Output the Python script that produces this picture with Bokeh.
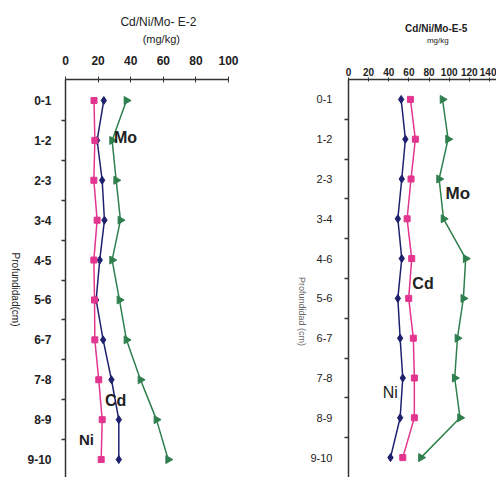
import numpy as np
from bokeh.plotting import figure
from bokeh.layouts import row, column
from bokeh.models import Range1d, FixedTicker, Label
from bokeh.embed import file_html
from bokeh.resources import INLINE

depths = ["0-1", "1-2", "2-3", "3-4", "4-5", "5-6", "6-7", "7-8", "8-9", "9-10"]
depths_e5 = ["0-1", "1-2", "2-3", "3-4", "4-6", "5-6", "6-7", "7-8", "8-9", "9-10"]

# E-2 (mg/kg)
e2_square = [17.5, 18, 17.4, 19.4, 17.4, 17.8, 18, 20.4, 22.5, 21.9]
e2_diamond = [23.5, 19.4, 22.5, 23.9, 21, 18.8, 23.1, 28.2, 32.7, 32.7]
e2_triangle = [37.4, 28.6, 31.1, 33.7, 28.6, 33.1, 37.4, 46, 55.8, 63]

# E-5 (mg/kg)
e5_square = [61.5, 66.4, 62.1, 58.2, 62.8, 59.8, 64.4, 65.4, 65.4, 53.9]
e5_diamond = [52.3, 56.5, 52.9, 49, 52.9, 49, 51.3, 53.9, 51.3, 41.7]
e5_triangle = [93.4, 98.9, 90, 94.4, 116.4, 114.1, 108.2, 105.5, 110.8, 72]

e2_xticks = [0, 20, 40, 60, 80, 100]
e5_xticks = [0, 20, 40, 60, 80, 100, 120, 140]

PINK = "#E2358F"
NAVY = "#1E206E"
GREEN = "#2F7F4E"
TXT = "#222222"
FONT = "Liberation Sans"

idx = list(range(len(depths)))

TITLE_H = 46
TOTAL_H = 477


def make_fig(width, border_left, border_right, xmax, ybottom, ytop, xticks,
             labels, xfs, yfs, xstand, ystand, xtick_len, xbold, ybold):
    p = figure(width=width, height=TOTAL_H - TITLE_H, output_backend="svg",
               toolbar_location=None, x_axis_location="above",
               x_range=Range1d(0, xmax), y_range=Range1d(ybottom, ytop), title=None,
               min_border_left=border_left, min_border_right=border_right,
               min_border_top=79 - TITLE_H, min_border_bottom=0)
    p.outline_line_color = None
    p.xgrid.grid_line_color = None
    p.ygrid.grid_line_color = None
    p.background_fill_color = "white"
    p.border_fill_color = "white"

    xa = p.xaxis[0]
    xa.ticker = FixedTicker(ticks=xticks)
    xa.axis_line_color = "#333333"
    xa.axis_line_width = 1.5
    xa.major_tick_line_color = "#333333"
    xa.major_tick_in = xtick_len
    xa.major_tick_out = xtick_len
    xa.minor_tick_line_color = None
    xa.major_label_text_font = FONT
    xa.major_label_text_font_size = xfs
    xa.major_label_text_font_style = "bold" if xbold else "normal"
    xa.major_label_text_color = TXT
    xa.major_label_standoff = xstand

    ya = p.yaxis[0]
    ya.ticker = FixedTicker(ticks=idx, minor_ticks=[i + 0.5 for i in idx[:-1]])
    ya.major_label_overrides = {i: lab for i, lab in zip(idx, labels)}
    ya.axis_line_color = "#333333"
    ya.axis_line_width = 1.5
    ya.major_tick_in = 0
    ya.major_tick_out = 0
    ya.minor_tick_in = 0
    ya.minor_tick_out = 4
    ya.minor_tick_line_color = "#333333"
    ya.minor_tick_line_width = 1.5
    ya.major_label_text_font = FONT
    ya.major_label_text_font_size = yfs
    ya.major_label_text_font_style = "bold" if ybold else "normal"
    ya.major_label_text_color = TXT
    ya.major_label_standoff = ystand
    return p


def text_fig(width, height):
    f = figure(width=width, height=height, output_backend="svg", toolbar_location=None,
               x_range=Range1d(0, width), y_range=Range1d(height, 0),
               x_axis_type=None, y_axis_type=None, title=None,
               min_border_left=0, min_border_right=0, min_border_top=0,
               min_border_bottom=0)
    f.outline_line_color = None
    f.xgrid.grid_line_color = None
    f.ygrid.grid_line_color = None
    f.background_fill_color = "white"
    f.border_fill_color = "white"
    return f


def draw_series(p, sq, di, tr):
    p.line(tr, idx, line_color=GREEN, line_width=1.5)
    p.scatter(tr, idx, marker="triangle", angle=-np.pi / 2, size=8,
              fill_color=GREEN, line_color=GREEN)
    p.line(di, idx, line_color=NAVY, line_width=1.5)
    p.scatter(di, idx, marker="diamond", size=8, fill_color=NAVY, line_color=NAVY)
    p.line(sq, idx, line_color=PINK, line_width=1.5)
    p.scatter(sq, idx, marker="square", size=6, fill_color=PINK, line_color=PINK)


def lab(p, x, y, text, size, bold=False, color=TXT, angle=0.0):
    p.add_layout(Label(x=x, y=y, text=text, text_font=FONT, text_font_size=size,
                       text_font_style="bold" if bold else "normal",
                       text_color=color, text_align="center", text_baseline="middle",
                       angle=angle))


# Left y-axis title strip
yl1 = text_fig(22, TOTAL_H)
lab(yl1, 15, 289, "Profundidad(cm)", "10px", angle=-np.pi / 2)

# Left chart (E-2)
t1 = text_fig(228, TITLE_H)
lab(t1, 130, 21, "Cd/Ni/Mo- E-2", "12px")
lab(t1, 134, 38, "(mg/kg)", "11px")

p1 = make_fig(228, 43, 22, 100, 9.45, -0.526, e2_xticks, depths,
              "12px", "12px", 12, 10, 3, True, True)
draw_series(p1, e2_square, e2_diamond, e2_triangle)
lab(p1, 36.8, 0.93, "Mo", "16px", bold=True)
lab(p1, 30.7, 7.52, "Cd", "16px", bold=True)
lab(p1, 12.9, 8.5, "Ni", "15px", bold=True)

# Right y-axis title strip
yl2 = text_fig(57, TOTAL_H)
lab(yl2, 51, 311, "Profundidad (cm)", "9px", color="#666666", angle=-np.pi / 2)

# Right chart (E-5)
t2 = text_fig(189, TITLE_H)
lab(t2, 112, 28, "Cd/Ni/Mo-E-5", "10px", bold=True)
lab(t2, 114, 39.5, "mg/kg", "8px")

p2 = make_fig(189, 40, 0, 147, 9.5, -0.5, e5_xticks, depths_e5,
              "10px", "11px", 2, 12, 2, True, False)
draw_series(p2, e5_square, e5_diamond, e5_triangle)
lab(p2, 108.5, 2.36, "Mo", "17px", bold=True)
lab(p2, 74.0, 4.62, "Cd", "16px", bold=True)
lab(p2, 41.4, 7.36, "Ni", "16px")

layout = row(yl1, column(t1, p1), yl2, column(t2, p2))
open("out.html", "w").write(file_html(layout, INLINE))
